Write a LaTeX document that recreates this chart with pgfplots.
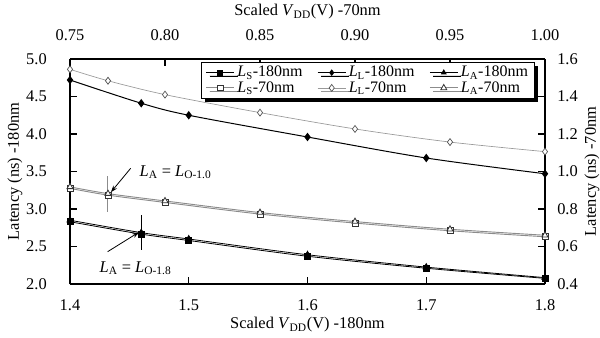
\documentclass[border=0pt]{standalone}
\usepackage{fontspec}
\setmainfont{Liberation Serif}
\usepackage{pgfplots}
\pgfplotsset{compat=1.18}
\usetikzlibrary{shadows,arrows.meta}
\definecolor{gA}{gray}{0.55}
\definecolor{gL}{gray}{0.6}
\begin{document}
\begin{tikzpicture}[font=\fontsize{12.3}{14}\selectfont]
\pgfplotsset{
  every axis/.append style={
    scale only axis, width=356.25pt, height=168.75pt,
    at={(0,0)}, anchor=south west,
    clip=false, axis line style={line width=0.9pt}, tick style={line width=0.8pt, black},
    tick align=inside, major tick length=5pt,
    /pgf/number format/assume math mode=true,
  },
}
% ---------- 180 nm : bottom / left ----------
\begin{axis}[
  xmin=1.4, xmax=1.8, ymin=2.0, ymax=5.0,
  axis x line*=bottom, axis y line*=left,
  xtick={1.4,1.5,1.6,1.7,1.8},
  ytick={2.0,2.5,3.0,3.5,4.0,4.5,5.0},
  xticklabel style={/pgf/number format/.cd, fixed, fixed zerofill, precision=1, /tikz/.cd, anchor=center, yshift=-15.75pt},
  yticklabel style={/pgf/number format/.cd, fixed, fixed zerofill, precision=1, /tikz/.cd, anchor=east, inner sep=0pt, xshift=-17.25pt},
  xlabel={Scaled \textit{V}\textsubscript{DD}(V) -180nm},
  ylabel={Latency (ns) -180nm},
  xlabel style={at={(axis description cs:0.5,-0.182)}, anchor=center},
  ylabel style={at={(axis description cs:-0.1158,0.5)}, anchor=center},
]
\addplot[black, line width=0.6pt, smooth, mark=square*, mark size=2.2pt, mark options={fill=black}]
  coordinates {(1.4,2.83) (1.46,2.665) (1.5,2.58) (1.6,2.37) (1.7,2.21) (1.8,2.075)};
\addplot[black, line width=0.6pt, smooth, mark=triangle*, mark size=2.6pt, mark options={fill=black}]
  coordinates {(1.4,2.85) (1.46,2.685) (1.5,2.60) (1.6,2.39) (1.7,2.225) (1.8,2.085)};
\addplot[black, line width=0.75pt, smooth, mark=diamond*, mark size=2.6pt, mark options={fill=black}]
  coordinates {(1.4,4.72) (1.46,4.41) (1.5,4.25) (1.6,3.96) (1.7,3.68) (1.8,3.47)};
% annotations
\draw[gA, line width=0.8pt] (axis cs:1.4317,3.44) -- (axis cs:1.4317,2.964);
\draw[black, line width=0.6pt, -{Stealth[length=5pt,width=3.5pt]}] (axis cs:1.4511,3.543) -- (axis cs:1.4345,3.225);
\node[anchor=center, inner sep=0pt] at (axis cs:1.4889,3.493) {\textit{L}\textsubscript{A} = \textit{L}\textsubscript{O-1.0}};
\draw[black, line width=0.8pt] (axis cs:1.4604,2.92) -- (axis cs:1.4604,2.453);
\draw[black, line width=0.6pt, -{Stealth[length=5pt,width=3.5pt]}] (axis cs:1.4317,2.431) -- (axis cs:1.4580,2.690);
\node[anchor=center, inner sep=0pt] at (axis cs:1.4552,2.213) {\textit{L}\textsubscript{A} = \textit{L}\textsubscript{O-1.8}};
\end{axis}
% ---------- 70 nm : top / right ----------
\begin{axis}[
  xmin=0.75, xmax=1.00, ymin=0.4, ymax=1.6,
  axis x line*=top, axis y line*=right,
  xtick={0.75,0.80,0.85,0.90,0.95,1.00},
  ytick={0.4,0.6,0.8,1.0,1.2,1.4,1.6},
  xticklabel style={/pgf/number format/.cd, fixed, fixed zerofill, precision=2, /tikz/.cd, anchor=center, yshift=18pt},
  yticklabel style={/pgf/number format/.cd, fixed, fixed zerofill, precision=1, /tikz/.cd, anchor=west, inner sep=0pt, xshift=9pt},
  xlabel={Scaled \textit{V}\textsubscript{DD}(V) -70nm},
  ylabel={Latency (ns) -70nm},
  xlabel style={at={(axis description cs:0.5,1.209)}, anchor=center},
  ylabel style={at={(axis description cs:1.099,0.5)}, anchor=center},
  legend columns=3,
  legend style={at={(rel axis cs:0.979,0.987)}, anchor=north east, draw=black, line width=0.6pt, fill=white,
    drop shadow={shadow xshift=2.5pt, shadow yshift=-2.5pt, fill=black, opacity=1},
    inner xsep=3pt, inner ysep=1pt, row sep=-2pt,
    /tikz/every even column/.append style={column sep=9pt},
    font=\fontsize{12}{13}\selectfont},
  legend cell align=left,
  legend image code/.code={\draw[mark repeat=2,mark phase=2,#1] plot coordinates {(0pt,0pt) (10.5pt,0pt) (21pt,0pt)};},
]
\addlegendimage{black, line width=0.6pt, mark=square*, mark size=1.8pt, mark options={fill=black}}
\addlegendentry{\textit{L}\textsubscript{S}-180nm}
\addlegendimage{black, line width=0.6pt, mark=diamond*, mark size=2pt, mark options={fill=black}}
\addlegendentry{\textit{L}\textsubscript{L}-180nm}
\addlegendimage{black, line width=0.6pt, mark=triangle*, mark size=2pt, mark options={fill=black}}
\addlegendentry{\textit{L}\textsubscript{A}-180nm}
\addplot[gA, line width=0.7pt, smooth, mark=square*, mark size=2.2pt, mark options={draw=black!80, fill=white, line width=0.6pt}]
  coordinates {(0.75,0.910) (0.77,0.874) (0.80,0.835) (0.85,0.773) (0.90,0.725) (0.95,0.684) (1.00,0.652)};
\addlegendentry{\textit{L}\textsubscript{S}-70nm}
\addplot[gL, line width=0.5pt, smooth, mark=diamond*, mark size=2.6pt, mark options={draw=black!70, fill=white, line width=0.5pt}]
  coordinates {(0.75,1.545) (0.77,1.484) (0.80,1.41) (0.85,1.314) (0.90,1.227) (0.95,1.157) (1.00,1.106)};
\addlegendentry{\textit{L}\textsubscript{L}-70nm}
\addplot[gA, line width=0.7pt, smooth, mark=triangle*, mark size=2.6pt, mark options={draw=black!80, fill=white, line width=0.6pt}]
  coordinates {(0.75,0.918) (0.77,0.882) (0.80,0.843) (0.85,0.781) (0.90,0.733) (0.95,0.692) (1.00,0.660)};
\addlegendentry{\textit{L}\textsubscript{A}-70nm}
\end{axis}
\pgfresetboundingbox
\useasboundingbox (-52.5pt,-39.75pt) rectangle (397.5pt,213pt);
\end{tikzpicture}
\end{document}
